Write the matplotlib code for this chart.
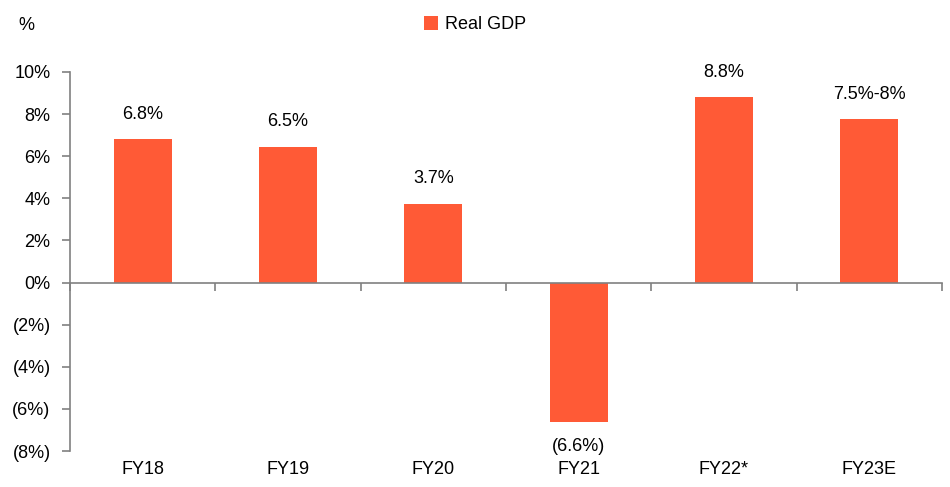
import matplotlib
matplotlib.use("Agg")
import matplotlib.pyplot as plt
from matplotlib.ticker import FuncFormatter, FixedLocator
import numpy as np

plt.rcParams["font.family"] = ["Liberation Sans", "DejaVu Sans"]

# data
years = ["FY18", "FY19", "FY20", "FY21", "FY22*", "FY23E"]
gdp = [6.8, 6.45, 3.75, -6.6, 8.8, 7.75]
gdp_labels = ["6.8%", "6.5%", "3.7%", "(6.6%)", "8.8%", "7.5%-8%"]

bar_color = "#FF5A36"
axis_color = "#808080"
text_color = "#000000"
fs = 13

fig = plt.figure(figsize=(9.5, 4.87), dpi=100)
ax = fig.add_axes([0.0737, 0.0739, 0.9179, 0.7783])

x = np.arange(len(years))
bars = ax.bar(x, gdp, width=0.4, color=bar_color, label="Real GDP", zorder=2)

ax.set_xlim(-0.5, len(years) - 0.5)
ax.set_ylim(-8, 10)
ax.set_yticks(np.arange(-8, 11, 2))


def pct(v, _pos):
    v = int(round(v))
    return f"({abs(v)}%)" if v < 0 else f"{v}%"


ax.yaxis.set_major_formatter(FuncFormatter(pct))
ax.tick_params(axis="y", direction="out", length=6, width=1.2, color=axis_color,
               labelsize=fs, labelcolor=text_color, pad=8)

# zero line carries the boundary ticks
for s in ["top", "right"]:
    ax.spines[s].set_visible(False)
ax.spines["left"].set_color(axis_color)
ax.spines["left"].set_linewidth(1.2)
ax.spines["bottom"].set_position(("data", 0))
ax.spines["bottom"].set_color(axis_color)
ax.spines["bottom"].set_linewidth(1.2)
ax.spines["bottom"].set_zorder(3)
ax.set_xticks([])
ax.xaxis.set_minor_locator(FixedLocator(np.arange(len(years) + 1) - 0.5))
ax.tick_params(axis="x", which="minor", direction="out", length=6, width=1.2,
               color=axis_color)

# category labels sit at the bottom of the axes
sec = ax.secondary_xaxis("bottom")
sec.set_xticks(x)
sec.set_xticklabels(years)
sec.tick_params(length=0, labelsize=fs, labelcolor=text_color, pad=7)
sec.spines["bottom"].set_visible(False)

# value labels
for b, v, lab in zip(bars, gdp, gdp_labels):
    off = 18 if v >= 0 else -18
    ax.annotate(lab, (b.get_x() + b.get_width() / 2, v), xytext=(0, off),
                textcoords="offset points", ha="center", va="center",
                fontsize=fs, color=text_color)

fig.text(0.0274, 0.948, "%", ha="center", va="center", fontsize=fs, color=text_color)
fig.legend(loc="upper center", bbox_to_anchor=(0.5, 1.0), ncol=1, frameon=False,
           fontsize=fs, handlelength=0.75, handleheight=0.75, handletextpad=0.4,
           labelcolor=text_color)

fig.savefig("out.png", dpi=100)
